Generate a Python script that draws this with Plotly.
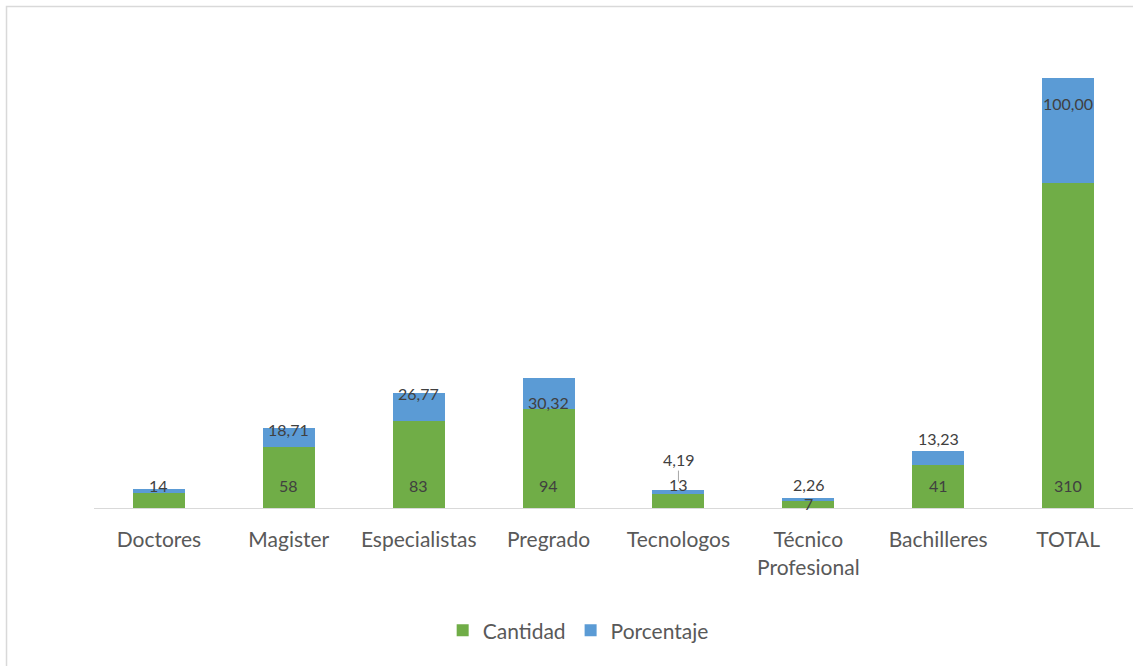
import plotly.graph_objects as go

categories = ["Doctores", "Magister", "Especialistas", "Pregrado", "Tecnologos",
              "Técnico<br>Profesional", "Bachilleres", "TOTAL"]
cantidad = [14, 58, 83, 94, 13, 7, 41, 310]
porcentaje = [4.52, 18.71, 26.77, 30.32, 4.19, 2.26, 13.23, 100.00]
# label placements (data units) as dragged in the original
cant_label_y = [21, 21, 21, 21, 22, 4.5, 21, 21]
pct_label_y = [None, 74.5, 109.5, 101, 46.8, 22.5, 65.8, 386]

GREEN = "#70AD47"
BLUE = "#5B9BD5"
FONT = "Lato"

fig = go.Figure()
fig.add_trace(go.Bar(x=categories, y=cantidad, name="Cantidad",
                     marker=dict(color=GREEN, line=dict(width=0)), width=0.4))
fig.add_trace(go.Bar(x=categories, y=porcentaje, name="Porcentaje",
                     marker=dict(color=BLUE, line=dict(width=0)), width=0.4))

def fmt(v):
    return f"{v:.2f}".replace(".", ",")

for c, v, yl in zip(categories, cantidad, cant_label_y):
    fig.add_annotation(x=c, y=yl, text=str(v), showarrow=False,
                       font=dict(family=FONT, size=16, color="#404040"))
for i, (c, v, yl) in enumerate(zip(categories, porcentaje, pct_label_y)):
    if yl is None:
        continue
    if c == "Tecnologos":
        fig.add_annotation(x=c, y=cantidad[i] + v + 8, text=fmt(v), showarrow=True,
                           arrowhead=0, arrowwidth=1, arrowcolor="#a6a6a6",
                           ax=0, ay=-22, standoff=0,
                           font=dict(family=FONT, size=16, color="#404040"))
    else:
        fig.add_annotation(x=c, y=yl, text=fmt(v), showarrow=False,
                           font=dict(family=FONT, size=16, color="#404040"))

fig.update_layout(
    barmode="stack",
    width=1133, height=666, autosize=False,
    margin=dict(l=94, r=0, t=36, b=158),
    paper_bgcolor="white", plot_bgcolor="white",
    font=dict(family=FONT, color="#595959"),
    showlegend=True,
    legend=dict(orientation="h", x=0.466, xanchor="center", y=-0.26, yanchor="middle",
                font=dict(family=FONT, size=21, color="#595959"), itemsizing="constant",
                traceorder="normal"),
    xaxis=dict(showline=True, linecolor="#d9d9d9", linewidth=1, ticks="",
               ticklabelstandoff=13,
               tickfont=dict(family=FONT, size=21, color="#595959"), showgrid=False),
    yaxis=dict(range=[0, 450], visible=False, showgrid=False),
)
fig.add_shape(type="rect", xref="paper", yref="paper",
              x0=-0.0842, x1=1.02, y0=-0.35, y1=1.0625,
              line=dict(color="#d9d9d9", width=1.5), fillcolor="rgba(0,0,0,0)", layer="below")

fig.write_html("out.html", config={"displayModeBar": False},
               post_script="document.body.style.margin='0';document.body.style.padding='0';")
